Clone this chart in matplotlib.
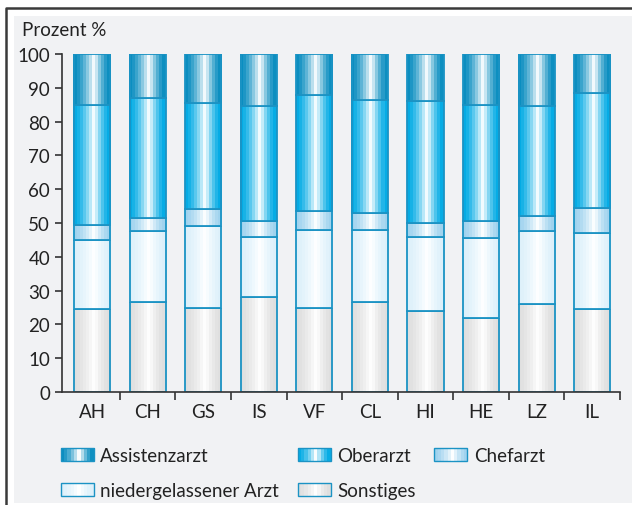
import matplotlib.pyplot as plt
import numpy as np
from matplotlib.patches import Rectangle
from matplotlib.lines import Line2D
from matplotlib.legend_handler import HandlerBase
from matplotlib.colors import to_rgb

plt.rcParams['font.family'] = ['Lato', 'DejaVu Sans']

# shares per group (percent), stacked bottom -> top
categories = ['AH', 'CH', 'GS', 'IS', 'VF', 'CL', 'HI', 'HE', 'LZ', 'IL']
sonstiges = [24.5, 26.5, 25.0, 28.0, 25.0, 26.5, 24.0, 22.0, 26.0, 24.5]
niedergelassen = [20.5, 21.0, 24.0, 18.0, 23.0, 21.5, 22.0, 23.5, 21.5, 22.5]
chefarzt = [4.5, 4.0, 5.0, 4.5, 5.5, 5.0, 4.0, 5.0, 4.5, 7.5]
oberarzt = [35.5, 35.5, 31.5, 34.0, 34.5, 33.5, 36.0, 34.5, 32.5, 34.0]
assistenzarzt = [15.0, 13.0, 14.5, 15.5, 12.0, 13.5, 14.0, 15.0, 15.5, 11.5]

series = [
    ('Sonstiges', sonstiges, '#dedede'),
    ('niedergelassener Arzt', niedergelassen, '#dcf0fa'),
    ('Chefarzt', chefarzt, '#9ed2ee'),
    ('Oberarzt', oberarzt, '#00aae4'),
    ('Assistenzarzt', assistenzarzt, '#078cbf'),
]
outline = '#1b93c4'
n_str = 12
bar_w = 0.65


def stripe_colors(edge, n=n_str):
    # banded "cylinder" shading: dark edges, white just right of centre
    e = np.array(to_rgb(edge))
    out = []
    for k in range(n):
        u = (k + 0.5) / n
        if u < 0.56:
            t = 1 - (0.56 - u) / 0.56
        else:
            t = 1 - (u - 0.56) / 0.44
        t = np.clip(t, 0, 1) ** 1.6
        out.append(tuple(e * (1 - t) + np.ones(3) * t))
    return out


class StripeHandler(HandlerBase):
    def create_artists(self, legend, orig_handle, xdescent, ydescent,
                       width, height, fontsize, trans):
        cols = stripe_colors(orig_handle.get_facecolor(), 10)
        arts = []
        sw = width / len(cols)
        for k, c in enumerate(cols):
            r = Rectangle((-xdescent + k * sw, -ydescent), sw * 1.3, height,
                          facecolor=c, edgecolor='none', transform=trans,
                          antialiased=False)
            arts.append(r)
        arts.append(Rectangle((-xdescent, -ydescent), width, height,
                              facecolor='none', edgecolor=outline, lw=1.0,
                              transform=trans))
        return arts


fig = plt.figure(figsize=(6.32, 5.06), dpi=100)
fig.patch.set_facecolor('white')

# gray panel + frame
fig.add_artist(Rectangle((14 / 632, 1 - 504 / 506), 618 / 632, 487 / 506,
                         transform=fig.transFigure, facecolor='#f1f2f4',
                         edgecolor='none', zorder=-10))
fig.add_artist(Line2D([6 / 632, 6 / 632, 1], [0, 1 - 9 / 506, 1 - 9 / 506],
                      transform=fig.transFigure, color='#3a3a3a', lw=1.8))

ax = fig.add_axes([62 / 632, 1 - 393 / 506, 558 / 632, 338 / 506])
ax.patch.set_alpha(0)

x = np.arange(len(categories))
bottom = np.zeros(len(categories))
handles = {}
for name, vals, edge in series:
    vals = np.array(vals)
    cols = stripe_colors(edge)
    sw = bar_w / n_str
    for k, c in enumerate(cols):
        ax.bar(x - bar_w / 2 + (k + 0.5) * sw, vals, width=sw * 1.3,
               bottom=bottom, color=c, linewidth=0, antialiased=False)
    ax.bar(x, vals, width=bar_w, bottom=bottom, facecolor='none',
           edgecolor=outline, linewidth=1.3)
    handles[name] = Rectangle((0, 0), 1, 1, facecolor=edge, label=name)
    bottom += vals

ax.set_xlim(-0.54, 9.5)
ax.set_ylim(0, 100)
ax.set_yticks(range(0, 101, 10))
ax.set_xticks(x)
ax.set_xticklabels(categories)
ax.set_xticks(x + 0.5, minor=True)
ax.tick_params(axis='x', which='major', length=0, labelsize=13.5, pad=8, colors='#222222')
ax.tick_params(axis='x', which='minor', length=6, width=1.2, color='#333333')
ax.tick_params(axis='y', length=5, width=1.2, labelsize=13.5, color='#333333',
               labelcolor='#222222')
for s in ['top', 'right']:
    ax.spines[s].set_visible(False)
for s in ['left', 'bottom']:
    ax.spines[s].set_linewidth(1.2)
    ax.spines[s].set_color('#333333')

fig.text(22 / 632, 1 - 30 / 506, 'Prozent %', fontsize=13.5, color='#222222',
         va='center', ha='left')

order = ['Assistenzarzt', 'niedergelassener Arzt', 'Oberarzt', 'Sonstiges', 'Chefarzt']
fig.legend([handles[o] for o in order], order, ncol=3,
           handler_map={Rectangle: StripeHandler()},
           loc='upper left', bbox_to_anchor=(44 / 632, 1 - 431 / 506),
           frameon=False, fontsize=13.5, handlelength=1.75, handleheight=0.7,
           handletextpad=0.35, columnspacing=1.0, labelspacing=0.95,
           labelcolor='#222222')

fig.savefig('out.png', dpi=100)
